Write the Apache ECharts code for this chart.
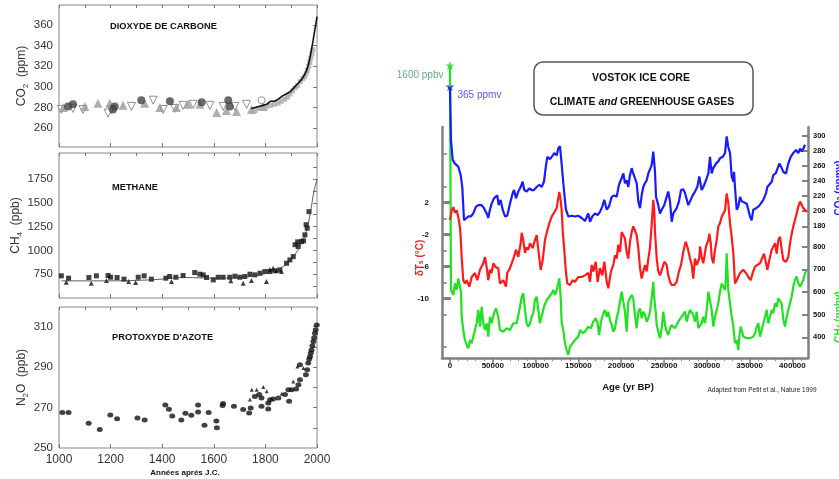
<!DOCTYPE html>
<html><head><meta charset="utf-8">
<script src="https://cdn.jsdelivr.net/npm/echarts@6/dist/echarts.min.js"></script>
<style>html,body{margin:0;padding:0;background:#fff}#c{width:839px;height:479px}</style>
</head><body><div id="c"></div>
<script>
// ---------- LEFT PANELS DATA (year AD, value) ----------
const co2Circles = [[1035,281],[1054,283],[1209,278],[1216,281],[1319,287],[1430,286],[1553,285],[1656,287],[1662,281]];
const co2Triangles = [[1016,280],[1100,281],[1151,284],[1197,284],[1248,282],[1332,284],[1391,280],[1455,280],[1500,283],[1546,283],[1611,275],[1649,277],[1688,276],[1746,278],[1792,281]];
const co2OpenTriangles = [[1009,278],[1054,279],[1093,278],[1190,274.5],[1203,278],[1281,281],[1365,287],[1404,278],[1449,279],[1481,282],[1520,283],[1585,282],[1636,281],[1682,281],[1727,283]];
const co2OpenCircles = [[1785,287]];
const co2Squares = [[1760,277],[1775,279],[1790,280],[1805,281],[1820,282],[1835,283],[1850,284],[1862,286],[1875,288],[1885,290],[1895,293],[1905,296],[1915,299],[1925,301],[1935,305],[1945,308],[1952,310],[1958,313],[1963,316],[1968,320],[1972,324],[1976,328],[1980,332],[1984,336]];
const co2Line = [[1745,279],[1760,280],[1775,281],[1790,282],[1805,283],[1820,286],[1835,286],[1850,288],[1865,291],[1880,293],[1895,295],[1910,299],[1925,303],[1940,307],[1950,311],[1958,315],[1965,320],[1970,325],[1975,331],[1980,338],[1985,345],[1990,353],[1995,360],[2000,368]];

const ch4Squares = [[1009,733],[1037,708],[1116,715],[1145,733],[1190,736],[1200,718],[1225,715],[1252,698],[1307,718],[1330,733],[1358,698],[1414,708],[1429,726],[1453,718],[1481,736],[1526,767],[1546,750],[1559,743],[1572,715],[1598,690],[1617,718],[1636,718],[1662,718],[1682,729],[1701,718],[1720,726],[1740,750],[1759,743],[1779,760],[1798,778],[1817,778],[1837,785],[1856,795],[1882,865],[1895,900],[1908,935],[1915,1060],[1925,1090],[1927,1040],[1940,1093],[1948,1100],[1953,1163],[1958,1270],[1962,1233],[1969,1407]];
const ch4Triangles = [[1028,666],[1125,656],[1184,684],[1270,673],[1297,663],[1436,673],[1666,680],[1714,656],[1746,684],[1804,673],[1817,800],[1830,813],[1843,790],[1862,778]];
const ch4Fit = [[1009,680],[1158,680],[1352,690],[1494,715],[1597,708],[1701,715],[1804,760],[1869,830],[1908,935],[1940,1075],[1960,1215],[1975,1407],[1988,1617],[2000,1745]];

const n2oDots = [[1013,267.5],[1037,267.5],[1115,262.2],[1158,259.2],[1199,266.3],[1225,264.5],[1304,264.8],[1332,263.8],[1412,271.3],[1426,269.2],[1439,265.8],[1474,263.8],[1490,267.2],[1513,266.2],[1539,271.3],[1539,267.8],[1564,261.2],[1580,267.5],[1610,263.3],[1612,260],[1634,271],[1636,272],[1678,270.6],[1714,269],[1737,267.3],[1743,269.8],[1759,275.5],[1776,276.4],[1785,274.7],[1785,270.6],[1811,272.3],[1811,269.3],[1818,273.9],[1830,274.2],[1850,274.7],[1876,276.4],[1889,278.8],[1892,273.1],[1902,278.8],[1919,279.2],[1928,281.3],[1934,283.7],[1934,291.1],[1957,286.2],[1962,288.7],[1966,292],[1970,294],[1973,295.2],[1976,297],[1979,298.5],[1982,300.5],[1986,302.6],[1989,304.5],[1992,306.7],[1995,308.5],[1999,310.8]];
const n2oTriangles = [[1740,274],[1747,278.8],[1766,278.8],[1792,280.1],[1805,278],[1863,276.8],[1908,282.9],[1924,290.3],[1947,289.5]];

const yearTicks = [1000,1200,1400,1600,1800,2000];
const co2Labels = [260,280,300,320,340,360];
const ch4Labels = [750,1000,1250,1500,1750];
const n2oLabels = [250,270,290,310];

// ---------- VOSTOK DATA (age yr BP, value) ----------
const vostokCO2 = [[0,365],[1200,294],[3200,268],[5800,263],[7800,264],[9700,259],[10900,261],[12500,248],[14400,232],[16400,188],[18700,186],[21400,193],[24500,193],[27200,197],[30400,206],[33100,208],[37000,208],[39700,204],[42900,197],[44700,191],[46700,202],[48700,210],[51400,217],[53700,218],[55300,221],[56900,208],[59200,215],[61600,202],[64300,193],[66900,194],[70100,210],[73300,224],[74800,228],[77100,217],[79800,226],[82600,232],[84900,239],[86800,228],[89600,226],[92600,230],[95400,228],[98100,228],[101300,232],[104300,235],[107100,232],[109800,239],[112200,261],[113700,272],[116800,269],[119500,273],[121800,277],[124700,274],[126500,283],[128500,286],[129700,272],[131700,246],[133500,224],[135500,202],[138200,193],[142200,194],[146000,193],[149900,194],[153900,191],[157700,187],[161600,197],[163600,186],[166200,193],[169400,197],[172500,195],[175200,199],[177900,206],[180300,215],[183100,202],[185700,206],[188900,219],[191900,221],[194700,219],[197400,235],[200600,244],[202500,250],[204400,237],[206400,241],[208300,232],[210300,248],[212300,257],[214100,250],[216100,252],[218100,237],[220000,213],[222000,204],[223900,221],[225800,232],[227800,237],[229800,241],[231700,250],[233600,248],[235600,261],[237500,279],[239500,252],[240700,219],[243300,208],[245300,197],[247300,202],[250300,208],[253100,219],[255000,226],[257000,213],[259000,186],[260900,197],[262800,195],[264800,204],[267500,213],[269900,228],[272500,229],[274500,224],[278400,208],[280400,213],[283500,221],[286200,226],[288900,232],[291200,246],[294000,228],[295900,232],[299100,241],[301800,250],[303700,272],[305700,250],[307600,257],[310700,263],[313400,266],[315400,270],[318600,272],[321300,277],[323200,299],[325100,285],[327100,277],[329100,246],[331000,239],[331800,252],[332900,232],[334900,202],[336800,206],[338800,219],[340800,213],[342600,215],[346600,210],[348500,202],[350500,193],[352400,188],[354300,202],[357500,204],[360200,206],[363000,210],[366000,215],[369200,224],[370700,232],[373000,230],[375800,239],[377700,248],[380500,250],[382800,257],[384700,263],[386700,259],[389400,252],[392500,250],[395200,263],[398000,272],[401000,277],[404200,281],[406900,277],[408900,283],[410900,279],[412900,283],[414700,288]];

const vostokTemp = [[0,-0.2],[2000,1.0],[3900,1.4],[5800,0.7],[7800,1.0],[9700,0.2],[11700,-1.1],[12500,-2.3],[13700,-4.8],[15500,-7.7],[17500,-8.1],[19500,-7.7],[22600,-8.5],[25400,-7.3],[29200,-6.8],[31900,-7.7],[35100,-6.4],[38900,-5.6],[40900,-4.8],[42900,-6.1],[44700,-7.7],[46700,-6.4],[48700,-6.8],[50600,-5.6],[53700,-6.1],[56400,-6.2],[58400,-8.1],[62300,-7.7],[65400,-8.5],[66900,-6.8],[70100,-6.2],[72100,-5.6],[74800,-4.8],[77100,-3.9],[79800,-4.8],[82600,-3.1],[83800,-1.8],[85600,-2.7],[87600,-4.3],[89600,-3.6],[91500,-3.9],[93500,-3.1],[96600,-3.7],[99300,-2.7],[101300,-2.1],[103200,-3.9],[106000,-6.4],[108300,-5.2],[111000,-2.7],[113000,-1.8],[116000,-0.6],[118800,0.2],[121500,0.7],[124700,1.3],[126500,2.5],[127700,3.3],[129300,2.3],[130500,1.0],[131700,-1.5],[133500,-3.9],[135200,-6.4],[137000,-8.1],[140200,-8.3],[143300,-7.7],[146000,-7.9],[149900,-7.3],[153900,-7.3],[157700,-7.1],[161600,-6.8],[163600,-7.9],[165500,-5.8],[167400,-6.6],[170200,-5.4],[172500,-7.9],[175200,-6.2],[177900,-7.1],[180300,-5.4],[183100,-7.9],[184900,-8.7],[188100,-6.6],[190800,-5.8],[192800,-4.6],[194700,-5.0],[196600,-3.3],[198600,-4.2],[200600,-1.7],[202500,-2.1],[204400,-2.5],[206400,-4.2],[208300,-5.0],[210300,-2.9],[212300,-1.7],[214100,-1.0],[216100,-0.8],[218100,-2.1],[220000,-3.7],[222000,-6.2],[223900,-7.5],[225800,-6.6],[227800,-5.8],[229800,-6.6],[231700,-5.0],[233600,-3.7],[235600,-0.8],[237500,2.3],[238700,0.8],[239500,-1.7],[241500,-5.0],[243300,-6.6],[245300,-7.1],[248000,-6.2],[250300,-5.4],[253100,-5.8],[255000,-7.1],[257000,-7.9],[259000,-8.3],[262000,-8.3],[264800,-7.9],[267500,-6.6],[269900,-5.8],[272500,-4.2],[275300,-2.9],[277700,-3.7],[280400,-5.0],[282400,-5.8],[284200,-7.5],[286200,-5.0],[288200,-5.8],[291200,-5.0],[292100,-3.5],[294000,-4.8],[295900,-5.6],[299100,-3.5],[301800,-2.7],[302900,-1.9],[304600,-3.1],[305700,-4.8],[307600,-5.6],[309600,-3.9],[311600,-2.7],[313400,-1.0],[315400,-0.6],[317400,0.2],[319300,0.2],[321300,1.0],[323200,3.1],[325100,1.9],[327100,-0.6],[329100,-2.3],[331000,-4.4],[332900,-8.1],[334900,-7.7],[336800,-7.5],[338800,-6.8],[342600,-6.4],[345800,-6.8],[348500,-7.3],[351300,-7.7],[353600,-6.8],[356300,-6.0],[359000,-5.8],[362100,-5.6],[364100,-5.4],[366800,-4.4],[369200,-5.6],[370700,-6.4],[373000,-5.2],[375800,-3.9],[377700,-3.5],[379700,-3.1],[381700,-4.4],[383500,-2.7],[385500,-2.3],[387500,-3.9],[389400,-5.2],[392500,-5.4],[395200,-4.8],[397200,-3.1],[399200,-1.9],[401000,-1.0],[403000,-0.2],[405000,0.6],[406900,1.5],[408900,2.1],[410900,1.9],[412700,1.3],[414700,1.5],[416700,0.8]];

const vostokCH4 = [[0,1600],[1200,609],[2000,601],[3900,587],[5800,638],[7800,609],[9700,660],[11700,668],[12900,601],[13700,491],[15500,432],[17500,388],[19500,366],[21400,351],[23400,388],[25400,374],[27200,403],[29200,432],[31200,462],[33100,521],[35100,447],[37000,535],[38900,462],[40900,432],[42900,462],[44700,403],[46700,491],[48700,462],[51400,506],[53700,528],[56400,491],[58400,432],[62300,425],[66200,440],[70100,432],[74000,462],[77900,462],[81800,535],[83800,579],[85600,594],[87600,521],[89600,462],[91500,447],[93500,462],[95400,491],[97300,506],[99300,565],[101300,579],[103200,521],[105100,462],[107100,491],[109800,535],[113000,565],[116000,579],[118800,594],[120700,609],[122700,587],[124700,609],[126500,638],[127700,660],[129300,579],[130500,462],[132400,432],[134300,374],[136300,344],[138200,322],[140200,358],[143300,374],[146000,388],[149900,403],[151900,432],[155000,418],[157700,425],[161600,447],[164700,440],[167400,469],[170200,484],[172500,462],[174100,410],[176400,469],[179100,506],[181100,521],[183100,491],[184900,513],[186900,476],[188900,454],[190800,425],[192800,440],[194700,484],[196600,513],[198600,557],[200600,601],[202500,609],[204400,513],[206400,425],[208300,557],[210300,572],[212300,587],[214100,572],[216100,498],[218100,440],[220000,513],[222000,528],[223900,484],[225800,513],[227800,498],[229800,469],[231700,484],[233600,513],[235600,572],[237500,645],[238700,572],[240300,513],[241500,454],[243300,425],[245300,396],[247300,440],[249200,513],[251200,454],[253100,425],[255000,410],[257000,440],[259000,454],[260900,462],[262800,440],[264800,454],[266700,469],[268700,469],[270700,491],[272500,484],[274500,513],[276500,469],[278400,498],[280400,521],[282400,513],[284200,498],[286200,469],[288200,513],[290100,440],[292100,447],[294000,462],[295900,491],[297900,462],[299900,521],[301800,601],[303700,594],[305700,521],[307600,447],[309600,491],[311600,521],[313400,550],[315400,601],[317400,638],[319300,638],[321300,609],[322400,668],[323200,771],[323900,712],[325100,609],[327100,550],[329100,491],[331000,447],[332900,374],[334900,388],[336800,344],[338000,403],[339600,447],[340800,432],[342600,403],[346600,396],[350500,396],[352400,388],[354300,403],[356300,418],[358300,447],[360200,462],[362100,403],[364100,432],[366000,462],[368000,491],[370000,521],[371800,462],[373800,491],[375800,521],[377700,506],[379700,550],[381700,535],[383500,572],[385500,579],[387500,550],[389400,476],[391400,447],[393300,491],[395200,521],[397200,550],[399200,579],[401000,623],[403000,653],[405000,668],[406900,638],[408900,623],[410900,638],[412700,653],[414700,683],[416700,697]];

const ageLabels = [0,50000,100000,150000,200000,250000,300000,350000,400000];
const ageMinorTicks = [0,10000,20000,30000,40000,50000,60000,70000,80000,90000,100000,110000,120000,130000,140000,150000,160000,170000,180000,190000,200000,210000,220000,230000,240000,250000,260000,270000,280000,290000,300000,310000,320000,330000,340000,350000,360000,370000,380000,390000,400000,410000];
const tempLabels = [2,-2,-6,-10];
const tempMinorTicks = [8,4,0,-4,-8,-12,-16];
const vCO2Labels = [180,200,220,240,260,280,300];
const vCH4Labels = [400,500,600,700,800];

// ---------- CHART ----------
const F = "'Liberation Sans', Arial, Helvetica, sans-serif";
const chart = echarts.init(document.getElementById('c'), null, {renderer:'canvas'});
const fmt = v => String(v);
const noLine = {show:false, onZero:false};
const subRich = {
  n:{fontSize:12, color:'#333', fontFamily:F, lineHeight:14, verticalAlign:'bottom'},
  s:{fontSize:8, color:'#333', fontFamily:F, lineHeight:8, verticalAlign:'bottom', padding:[0,0,-2,0]}
};
const panels = [
  {min:241.6, max:379.4, labels:co2Labels, name:'{n|CO}{s|2}{n|  (ppm)}', rt:[240,260,280,300,320,340,360]},
  {min:500, max:2023, labels:ch4Labels, name:'{n|CH}{s|4}{n|  (ppb)}', rt:[625,750,875,1000,1125,1250,1375,1500,1625,1750,1875]},
  {min:250, max:319.7, labels:n2oLabels, name:'{n|N}{s|2}{n|O  (ppb)}', rt:[260,270,280,290,300,310]}
];
const grids = [
  {left:59, top:5, width:258, height:142, show:true, borderColor:'#888', borderWidth:1},
  {left:59, top:153, width:258, height:145, show:true, borderColor:'#888', borderWidth:1},
  {left:59, top:307, width:258, height:141, show:true, borderColor:'#888', borderWidth:1},
  {left:442, top:127, width:366, height:231, show:false}
];
const xAxes = [], yAxes = [];
panels.forEach((p,i)=>{
  xAxes.push({gridIndex:i, type:'value', min:1000, max:2000, interval:200, axisLine:noLine, splitLine:{show:false},
    axisTick:{inside:true, length:4, lineStyle:{color:'#777'}},
    axisLabel:{show:i===2, formatter:fmt, fontSize:12, color:'#333', fontFamily:F, margin:6}});
  xAxes.push({gridIndex:i, type:'value', position:'top', min:1000, max:2000, interval:100, axisLine:noLine, splitLine:{show:false},
    axisTick:{inside:true, length:3, lineStyle:{color:'#777'}}, axisLabel:{show:false}});
  yAxes.push({gridIndex:i, type:'value', min:p.min, max:p.max, axisLine:noLine, splitLine:{show:false}, axisTick:{show:false},
    axisLabel:{customValues:p.labels, formatter:fmt, fontSize:11.5, color:'#333', fontFamily:F, margin:6},
    name:p.name, nameLocation:'middle', nameGap:31, nameRotate:90, nameTextStyle:{rich:subRich}});
  yAxes.push({gridIndex:i, type:'value', position:'right', min:p.min, max:p.max, axisLine:noLine, splitLine:{show:false},
    axisTick:{inside:true, length:4, customValues:p.rt, lineStyle:{color:'#777'}}, axisLabel:{show:false}});
});
// Vostok axes
const axCol = '#808080';
xAxes.push({gridIndex:3, type:'value', min:-9300, max:418200, splitLine:{show:false},
  axisLine:{show:true, onZero:false, lineStyle:{color:axCol, width:2.5}},
  axisTick:{show:true, customValues:ageLabels, length:6, lineStyle:{color:axCol, width:1.5}},
  axisLabel:{customValues:ageLabels, formatter:fmt, fontSize:8, fontWeight:'bold', color:'#111', fontFamily:F, margin:4}});
xAxes.push({gridIndex:3, type:'value', position:'bottom', min:-9300, max:418200, splitLine:{show:false},
  axisLine:noLine, axisTick:{show:true, customValues:ageMinorTicks, length:3, lineStyle:{color:axCol, width:1}}, axisLabel:{show:false}});
yAxes.push({gridIndex:3, type:'value', position:'left', min:-17.39, max:11.38, splitLine:{show:false},
  axisLine:{show:true, onZero:false, lineStyle:{color:axCol, width:2.5}},
  axisTick:{show:true, inside:true, customValues:tempLabels, length:9, lineStyle:{color:axCol, width:3}},
  axisLabel:{customValues:tempLabels, formatter:fmt, fontSize:8, fontWeight:'bold', color:'#111', fontFamily:F, margin:13}});
yAxes.push({gridIndex:3, type:'value', position:'left', min:-17.39, max:11.38, splitLine:{show:false},
  axisLine:noLine, axisTick:{show:true, inside:true, customValues:tempMinorTicks, length:5, lineStyle:{color:axCol, width:1.5}}, axisLabel:{show:false}});
yAxes.push({gridIndex:3, type:'value', position:'right', min:5.56, max:311.5, splitLine:{show:false},
  axisLine:{show:true, onZero:false, lineStyle:{color:axCol, width:2.5}},
  axisTick:{show:true, inside:true, customValues:vCO2Labels, length:6, lineStyle:{color:axCol, width:2}},
  axisLabel:{customValues:vCO2Labels, formatter:fmt, fontSize:7.5, fontWeight:'bold', color:'#111', fontFamily:F, margin:5}});
yAxes.push({gridIndex:3, type:'value', position:'right', min:308.6, max:1328.5, splitLine:{show:false},
  axisLine:noLine,
  axisTick:{show:true, inside:true, customValues:vCH4Labels, length:6, lineStyle:{color:axCol, width:2}},
  axisLabel:{customValues:vCH4Labels, formatter:fmt, fontSize:7.5, fontWeight:'bold', color:'#111', fontFamily:F, margin:5}});

const sc = (xi, yi, data, extra) => Object.assign({type:'scatter', xAxisIndex:xi, yAxisIndex:yi, data, silent:true}, extra);
const starPath = 'path://M0,-10 L2.4,-3.1 9.5,-3.1 3.8,1.2 5.9,8.1 0,4 -5.9,8.1 -3.8,1.2 -9.5,-3.1 -2.4,-3.1Z';
const BLUE = '#1a1aff', RED = '#ff1a1a', GREEN = '#22e022';

const series = [
  // panel 1 CO2
  sc(0,0,co2OpenTriangles,{symbol:'triangle', symbolRotate:180, symbolSize:8, itemStyle:{color:'#fff', borderColor:'#777', borderWidth:1}}),
  sc(0,0,co2Triangles,{symbol:'triangle', symbolSize:9, itemStyle:{color:'#999'}}),
  sc(0,0,co2Circles,{symbol:'circle', symbolSize:8, itemStyle:{color:'#444'}}),
  sc(0,0,co2OpenCircles,{symbol:'circle', symbolSize:7, itemStyle:{color:'#fff', borderColor:'#777', borderWidth:1}}),
  sc(0,0,co2Squares,{symbol:'rect', symbolSize:5, itemStyle:{color:'#aaa'}}),
  {type:'line', xAxisIndex:0, yAxisIndex:0, data:co2Line, showSymbol:false, lineStyle:{color:'#111', width:1.6}, silent:true},
  // panel 2 CH4
  {type:'line', xAxisIndex:2, yAxisIndex:2, data:ch4Fit, smooth:0.4, showSymbol:false, lineStyle:{color:'#333', width:0.8}, silent:true},
  sc(2,2,ch4Squares,{symbol:'rect', symbolSize:5, itemStyle:{color:'#111'}}),
  sc(2,2,ch4Triangles,{symbol:'triangle', symbolSize:5, itemStyle:{color:'#111'}}),
  // panel 3 N2O
  sc(4,4,n2oDots,{symbol:'circle', symbolSize:[6,5], itemStyle:{color:'#111'}}),
  sc(4,4,n2oTriangles,{symbol:'triangle', symbolSize:4, itemStyle:{color:'#111'}}),
  // Vostok
  {type:'line', xAxisIndex:6, yAxisIndex:9, data:vostokCH4, showSymbol:false, clip:false, lineStyle:{color:GREEN, width:2.2}, silent:true},
  {type:'line', xAxisIndex:6, yAxisIndex:6, data:vostokTemp, showSymbol:false, lineStyle:{color:RED, width:2.2}, silent:true},
  {type:'line', xAxisIndex:6, yAxisIndex:8, data:vostokCO2, showSymbol:false, clip:false, lineStyle:{color:BLUE, width:2.2}, silent:true},
  sc(6,9,[vostokCH4[0]],{symbol:starPath, symbolSize:9, clip:false, itemStyle:{color:'#2bd12b'},
    label:{show:true, position:'left', formatter:'1600 ppbv', color:'#35a05a', fontSize:10, fontFamily:F, offset:[0,10], distance:2}}),
  sc(6,8,[vostokCO2[0]],{symbol:starPath, symbolSize:9, clip:false, itemStyle:{color:BLUE},
    label:{show:true, position:'right', formatter:'365 ppmv', color:'#2a2aff', fontSize:10, fontFamily:F, offset:[0,9], distance:3}})
];

const txt = (x,y,text,font,fill,extra) => Object.assign({type:'text', x, y, silent:true, style:Object.assign({text, font, fill, align:'left', verticalAlign:'middle'}, extra||{})});
const graphic = [
  txt(110,26,'DIOXYDE DE CARBONE','bold 9.3px '+F,'#111'),
  txt(112,187,'METHANE','bold 9.3px '+F,'#111'),
  txt(112,337,"PROTOXYDE D'AZOTE",'bold 9.3px '+F,'#111'),
  txt(185,473,'Années après J.C.','bold 8px '+F,'#111',{align:'center'}),
  {type:'rect', shape:{x:534, y:62, width:219, height:53, r:9}, style:{fill:'none', stroke:'#555', lineWidth:1.5}, silent:true},
  txt(641,78,'VOSTOK ICE CORE','bold 10.5px '+F,'#111',{align:'center'}),
  {type:'text', x:642, y:102, silent:true, style:{text:'{b|CLIMATE }{i|and}{b| GREENHOUSE GASES}', align:'center', verticalAlign:'middle',
    rich:{b:{font:'bold 10.5px '+F, fill:'#111'}, i:{font:'italic bold 10.5px '+F, fill:'#111'}}}},
  txt(628,387,'Age (yr BP)','bold 9.5px '+F,'#111',{align:'center'}),
  txt(762,390,'Adapted from Petit et al., Nature 1999','6.5px '+F,'#222',{align:'center'}),
  {type:'text', x:419, y:258, rotation:Math.PI/2, silent:true, style:{text:'{a|δT}{s|s}{a| (°C)}', align:'center', verticalAlign:'middle',
    rich:{a:{font:'bold 10px '+F, fill:RED, lineHeight:12, verticalAlign:'bottom'}, s:{font:'bold 7px '+F, fill:RED, lineHeight:8, verticalAlign:'bottom'}}}},
  {type:'text', x:838, y:188, rotation:Math.PI/2, silent:true, style:{text:'{a|CO}{s|2}{a| (ppmv)}', align:'center', verticalAlign:'middle',
    rich:{a:{font:'bold 10px '+F, fill:BLUE, lineHeight:12, verticalAlign:'bottom'}, s:{font:'bold 7px '+F, fill:BLUE, lineHeight:8, verticalAlign:'bottom'}}}},
  {type:'text', x:838, y:317, rotation:Math.PI/2, silent:true, style:{text:'{a|CH}{s|4}{a| (ppbv)}', align:'center', verticalAlign:'middle',
    rich:{a:{font:'bold 10px '+F, fill:GREEN, lineHeight:12, verticalAlign:'bottom'}, s:{font:'bold 7px '+F, fill:GREEN, lineHeight:8, verticalAlign:'bottom'}}}}
];

chart.setOption({
  animation:false,
  backgroundColor:'#fff',
  textStyle:{fontFamily:F},
  grid:grids, xAxis:xAxes, yAxis:yAxes, series, graphic
});
</script></body></html>
